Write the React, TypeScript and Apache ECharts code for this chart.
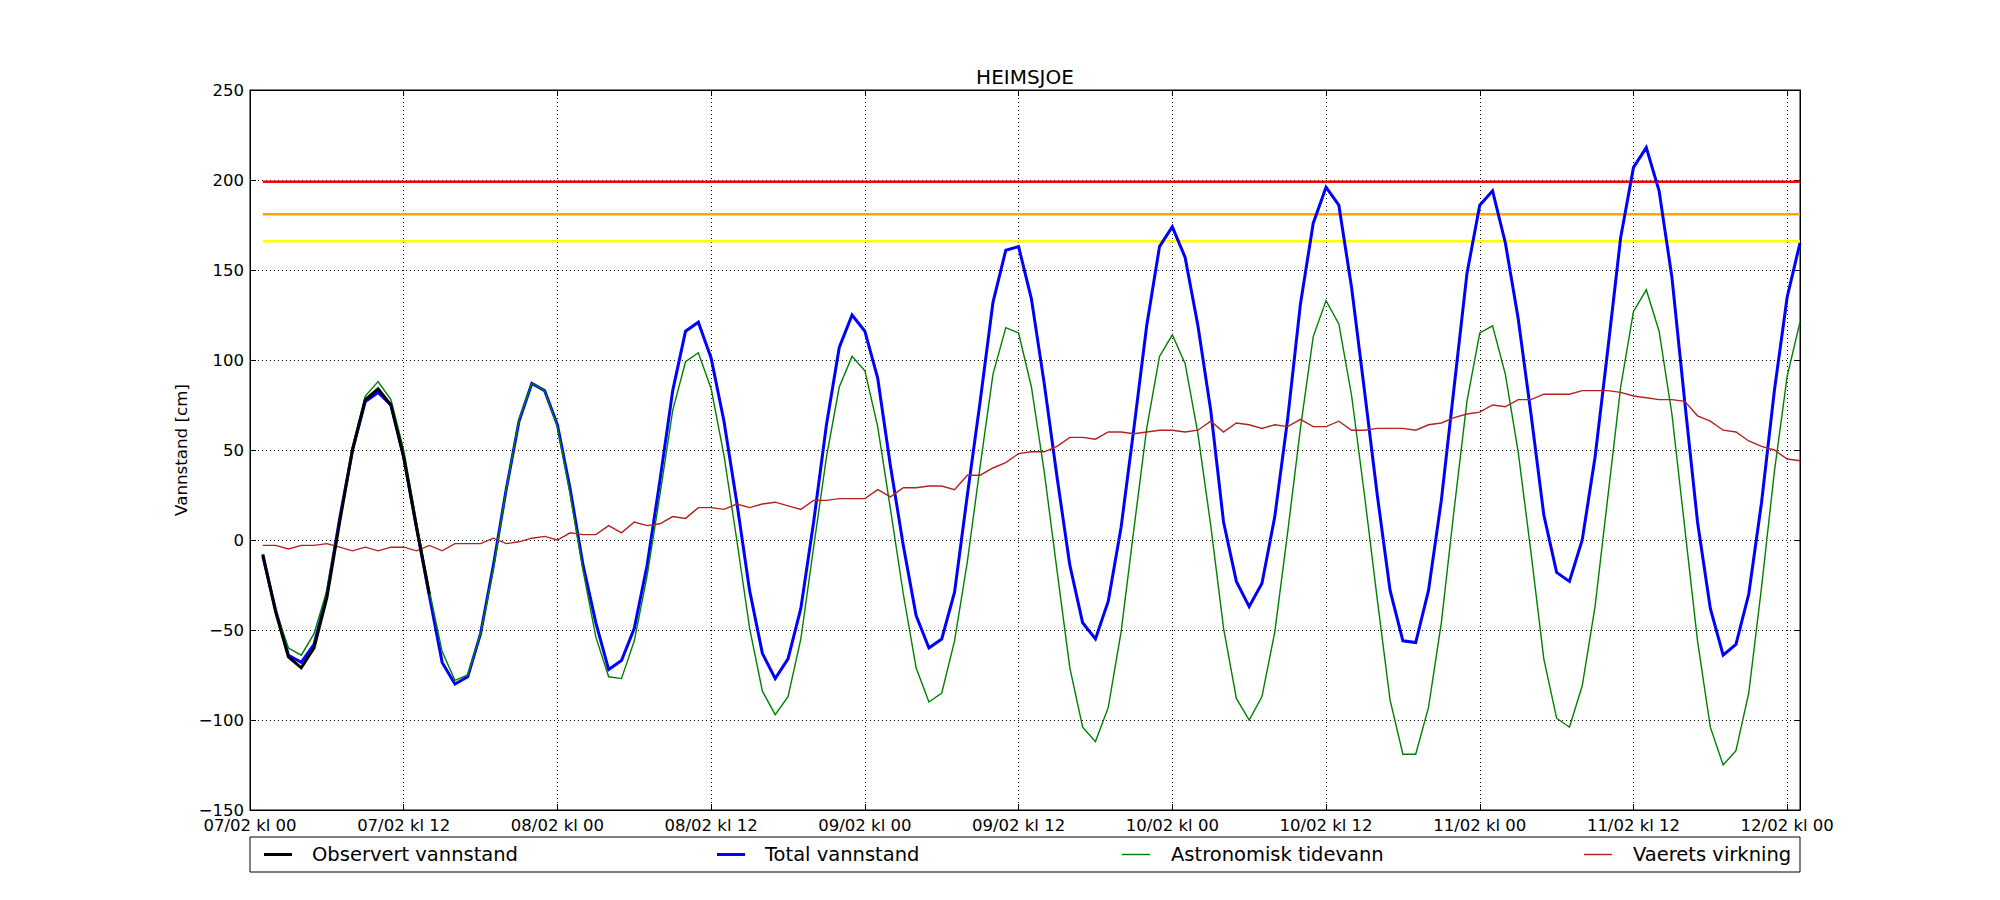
import React, { useEffect, useRef } from "react";
import * as echarts from "echarts";

const TITLE = "HEIMSJOE";
const Y_LABEL = "Vannstand [cm]";
const FONT = '"DejaVu Sans", sans-serif';

const FIRST_HOUR = 1;
const X_MIN = 0;
const X_MAX = 121;
const X_INTERVAL = 12;
const X_TICK_LABELS = [
  "07/02 kl 00", "07/02 kl 12", "08/02 kl 00", "08/02 kl 12", "09/02 kl 00",
  "09/02 kl 12", "10/02 kl 00", "10/02 kl 12", "11/02 kl 00", "11/02 kl 12", "12/02 kl 00",
];
const Y_MIN = -150;
const Y_MAX = 250;
const Y_INTERVAL = 50;

const SERIES_NAMES = ["Observert vannstand", "Total vannstand", "Astronomisk tidevann", "Vaerets virkning"];

const OBSERVED = [-8, -40, -65, -71, -60, -32, 10, 50, 78, 84, 75, 46, 7, -30];

const TOTAL = [
  -9, -39, -64, -68, -58, -30, 12, 50, 77, 82, 75, 46, 7, -31, -68, -80, -76, -52, -14, 28,
  66, 87, 83, 64, 28, -14, -46, -72, -67, -49, -14, 33, 83, 116, 121, 101, 66, 21, -28, -63,
  -77, -66, -38, 10, 64, 107, 125, 116, 90, 41, -3, -42, -60, -55, -29, 25, 77, 132, 161, 163,
  134, 87, 35, -14, -46, -55, -34, 7, 62, 119, 163, 174, 157, 119, 72, 10, -23, -37, -24, 13,
  67, 131, 176, 196, 186, 140, 83, 25, -28, -56, -57, -28, 22, 85, 148, 186, 194, 165, 123, 70,
  14, -18, -23, 0, 46, 106, 168, 207, 218, 194, 146, 77, 10, -38, -64, -58, -30, 21, 83, 135,
  165,
];

const ASTRO = [
  -9, -39, -60, -64, -52, -28, 12, 52, 80, 88, 78, 50, 10, -28, -62, -78, -75, -52, -16, 28,
  67, 87, 83, 63, 25, -17, -54, -76, -77, -56, -20, 25, 72, 99, 104, 84, 47, 0, -49, -84,
  -97, -87, -55, -4, 46, 85, 102, 94, 63, 17, -30, -71, -90, -85, -56, -12, 41, 92, 118, 115,
  85, 38, -17, -71, -104, -112, -93, -51, 6, 62, 102, 114, 98, 59, 8, -49, -88, -100, -87, -51,
  4, 62, 113, 133, 120, 80, 25, -33, -89, -119, -119, -93, -46, 17, 77, 115, 119, 92, 49, -7,
  -66, -99, -104, -81, -37, 24, 85, 127, 139, 116, 70, 7, -56, -104, -125, -117, -85, -26, 38, 91,
  121,
];

const WEATHER = [
  -3, -3, -5, -3, -3, -2, -4, -6, -4, -6, -4, -4, -6, -3, -6, -2, -2, -2, 1, -2,
  -1, 1, 2, 0, 4, 3, 3, 8, 4, 10, 8, 9, 13, 12, 18, 18, 17, 20, 18, 20,
  21, 19, 17, 22, 22, 23, 23, 23, 28, 24, 29, 29, 30, 30, 28, 36, 36, 40, 43, 48,
  49, 49, 52, 57, 57, 56, 60, 60, 59, 60, 61, 61, 60, 61, 66, 60, 65, 64, 62, 64,
  63, 67, 63, 63, 66, 61, 61, 62, 62, 62, 61, 64, 65, 68, 70, 71, 75, 74, 78, 78,
  81, 81, 81, 83, 83, 83, 82, 80, 79, 78, 78, 77, 69, 66, 61, 60, 55, 52, 50, 45,
  44,
];

const THRESHOLDS = [199, 181, 166];
const THRESHOLD_COLORS = ["#ff0000", "#ffa500", "#ffff00"];
const COLORS = ["#000000", "#0000ff", "#008000", "#b22222"];
const WIDTHS = [3, 3, 1.4, 1.4];

const toPairs = (arr: number[]) => arr.map((v, i) => [FIRST_HOUR + i, v]);
const fmtY = (v: number) => (v < 0 ? "\u2212" + String(-v) : String(v));

export default function App() {
  const ref = useRef<HTMLDivElement>(null);

  useEffect(() => {
    document.body.style.margin = "0";
    if (!ref.current) return;
    const chart = echarts.init(ref.current, undefined, { renderer: "svg" });

    const L = 250, T = 90, W = 1550, H = 720;
    const lastHour = FIRST_HOUR + TOTAL.length - 1;

    const thresholdSeries = THRESHOLDS.map((v, i) => ({
      type: "line",
      data: [[FIRST_HOUR, v], [lastHour, v]],
      symbol: "none",
      silent: true,
      lineStyle: { color: THRESHOLD_COLORS[i], width: 2.6 },
      z: 2,
    }));

    const dataSets = [OBSERVED, TOTAL, ASTRO, WEATHER];
    const zs = [6, 3, 4, 5];
    const mainSeries = dataSets.map((d, i) => ({
      name: SERIES_NAMES[i],
      type: "line",
      data: toPairs(d),
      symbol: "none",
      lineStyle: { color: COLORS[i], width: WIDTHS[i], join: "miter" },
      z: zs[i],
    }));

    const legY = 854.5;
    const handleX = [264, 717, 1122, 1584];
    const textX = [312, 765, 1171, 1633];
    const legendEls: any[] = [
      {
        type: "rect",
        shape: { x: L, y: 837, width: W, height: 35 },
        style: { fill: "#fff", stroke: "#000", lineWidth: 1 },
      },
    ];
    SERIES_NAMES.forEach((n, i) => {
      legendEls.push({
        type: "line",
        shape: { x1: handleX[i], y1: legY, x2: handleX[i] + 28, y2: legY },
        style: { stroke: COLORS[i], lineWidth: WIDTHS[i] },
      });
      legendEls.push({
        type: "text",
        x: textX[i],
        y: legY,
        style: {
          text: n,
          font: `19.5px ${FONT}`,
          fill: "#000",
          textAlign: "left",
          textVerticalAlign: "middle",
          align: "left",
          verticalAlign: "middle",
        },
      });
    });

    const axisCommon = {
      axisLine: { show: true, onZero: false, lineStyle: { color: "#000", width: 1 } },
      axisTick: { show: true, inside: true, length: 6, lineStyle: { color: "#000", width: 1 } },
    };

    chart.setOption({
      animation: false,
      backgroundColor: "#fff",
      grid: { left: L, top: T, width: W, height: H, show: true, borderColor: "#000", borderWidth: 1, backgroundColor: "transparent" },
      xAxis: [
        {
          type: "value",
          min: X_MIN,
          max: X_MAX,
          interval: X_INTERVAL,
          ...axisCommon,
          axisLabel: {
            color: "#000",
            fontFamily: FONT,
            fontSize: 16.5,
            margin: 7,
            formatter: (v: number) => (v % X_INTERVAL === 0 ? X_TICK_LABELS[v / X_INTERVAL] ?? "" : ""),
          },
          splitLine: { show: true, lineStyle: { color: "#000", width: 1, type: [1, 3] } },
        },
        {
          type: "value",
          position: "top",
          min: X_MIN,
          max: X_MAX,
          interval: X_INTERVAL,
          ...axisCommon,
          axisLabel: { show: false },
          splitLine: { show: false },
        },
      ],
      yAxis: [
        {
          type: "value",
          min: Y_MIN,
          max: Y_MAX,
          interval: Y_INTERVAL,
          ...axisCommon,
          axisLabel: { color: "#000", fontFamily: FONT, fontSize: 16.5, margin: 6, formatter: fmtY },
          splitLine: { show: true, lineStyle: { color: "#000", width: 1, type: [1, 3] } },
        },
        {
          type: "value",
          position: "right",
          min: Y_MIN,
          max: Y_MAX,
          interval: Y_INTERVAL,
          ...axisCommon,
          axisLabel: { show: false },
          splitLine: { show: false },
        },
      ],
      series: [...thresholdSeries, ...mainSeries],
      graphic: [
        {
          type: "text",
          x: L + W / 2,
          y: 76.5,
          style: {
            text: TITLE,
            font: `20px ${FONT}`,
            fill: "#000",
            textAlign: "center",
            textVerticalAlign: "middle",
            align: "center",
            verticalAlign: "middle",
          },
        },
        {
          type: "text",
          x: 181,
          y: T + H / 2,
          rotation: Math.PI / 2,
          style: {
            text: Y_LABEL,
            font: `16.7px ${FONT}`,
            fill: "#000",
            textAlign: "center",
            textVerticalAlign: "middle",
            align: "center",
            verticalAlign: "middle",
          },
        },
        ...legendEls,
      ],
    });

    return () => chart.dispose();
  }, []);

  return <div ref={ref} style={{ width: 2000, height: 900 }} />;
}
